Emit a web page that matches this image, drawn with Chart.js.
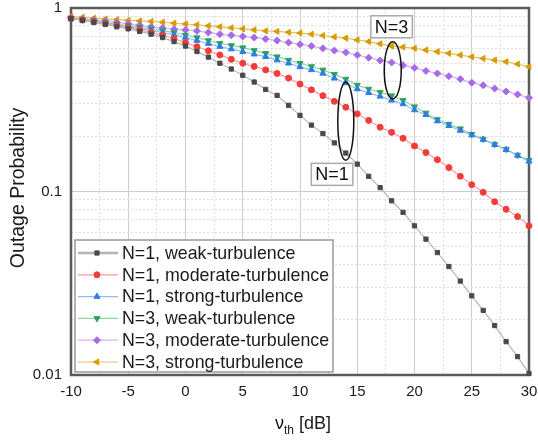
<!DOCTYPE html>
<html><head><meta charset="utf-8">
<script src="https://cdn.jsdelivr.net/npm/chart.js@4/dist/chart.umd.min.js"></script>
<style>html,body{margin:0;padding:0;background:#fff}#wrap{width:538px;height:443px;position:relative}</style>
</head><body><div id="wrap"><canvas id="c"></canvas></div>
<script>
// ---- data ----
const thresholdDb = [-10,-9,-8,-7,-6,-5,-4,-3,-2,-1,0,1,2,3,4,5,6,7,8,9,10,11,12,13,14,15,16,17,18,19,20,21,22,23,24,25,26,27,28,29,30];
const n1Weak = [0.875,0.855,0.835,0.815,0.79,0.77,0.745,0.72,0.69,0.656,0.62,0.58,0.54,0.50,0.465,0.43,0.395,0.36,0.334,0.295,0.26,0.23,0.207,0.184,0.162,0.141,0.121,0.105,0.089,0.077,0.065,0.055,0.0465,0.039,0.0325,0.027,0.0225,0.0186,0.0152,0.0126,0.0102];
const n1Moderate = [0.875,0.86,0.84,0.82,0.80,0.78,0.76,0.735,0.71,0.68,0.648,0.615,0.585,0.555,0.525,0.50,0.48,0.46,0.44,0.415,0.385,0.358,0.333,0.31,0.288,0.265,0.244,0.224,0.21,0.195,0.177,0.163,0.149,0.135,0.121,0.109,0.099,0.088,0.080,0.073,0.065];
const n1Strong = [0.875,0.86,0.845,0.83,0.81,0.79,0.77,0.755,0.735,0.714,0.69,0.665,0.64,0.616,0.597,0.578,0.56,0.543,0.52,0.50,0.478,0.46,0.44,0.414,0.39,0.362,0.345,0.33,0.314,0.30,0.278,0.262,0.242,0.228,0.215,0.203,0.192,0.18,0.169,0.157,0.146];
const n3Weak = [0.88,0.865,0.85,0.835,0.815,0.80,0.785,0.77,0.752,0.735,0.712,0.69,0.665,0.642,0.625,0.608,0.587,0.566,0.543,0.52,0.50,0.48,0.46,0.435,0.41,0.38,0.362,0.347,0.333,0.314,0.29,0.268,0.247,0.233,0.22,0.205,0.193,0.181,0.17,0.158,0.148];
const n3Moderate = [0.885,0.87,0.86,0.848,0.835,0.82,0.805,0.79,0.778,0.767,0.758,0.75,0.735,0.72,0.71,0.70,0.69,0.678,0.665,0.648,0.634,0.62,0.603,0.586,0.573,0.554,0.536,0.518,0.505,0.488,0.472,0.454,0.44,0.425,0.41,0.392,0.379,0.364,0.351,0.338,0.324];
const n3Strong = [0.90,0.89,0.88,0.872,0.864,0.856,0.85,0.845,0.836,0.827,0.818,0.81,0.80,0.79,0.78,0.77,0.76,0.75,0.745,0.737,0.73,0.72,0.708,0.696,0.685,0.67,0.656,0.638,0.62,0.612,0.603,0.59,0.578,0.566,0.554,0.542,0.531,0.52,0.51,0.495,0.478];
const seriesLabels = ['N=1, weak-turbulence','N=1, moderate-turbulence','N=1, strong-turbulence','N=3, weak-turbulence','N=3, moderate-turbulence','N=3, strong-turbulence'];
const xMajorTicks = [-10,-5,0,5,10,15,20,25,30];
const xMinorTicks = [-7.5,-2.5,2.5,7.5,12.5,17.5,22.5,27.5];
const yMajorTicks = [0.01,0.1,1];
const yMinorTicks = [0.02,0.03,0.04,0.05,0.06,0.07,0.08,0.09,0.2,0.3,0.4,0.5,0.6,0.7,0.8,0.9];
const annotationLabels = ['N=1','N=3'];

// ---- styles ----
const FONT = '"Liberation Sans", Arial, sans-serif';
const styles = [
  {line:'#b5b5b5', mark:'#4a4a4a', ps:'rect', rot:0, r:3},
  {line:'#ff9a9a', mark:'#f23c3c', ps:'circle', rot:0, r:3},
  {line:'#8fbcf5', mark:'#2f7de0', ps:'triangle', rot:0, r:3.5},
  {line:'#8fd4a8', mark:'#2ea35c', ps:'triangle', rot:180, r:3.5},
  {line:'#d4b3f3', mark:'#a86be8', ps:'rectRot', rot:0, r:3.5},
  {line:'#e6c25a', mark:'#d89b00', ps:'triangle', rot:270, r:3.5}
];
const allSeries = [n1Weak,n1Moderate,n1Strong,n3Weak,n3Moderate,n3Strong];
const datasets = allSeries.map((arr,i)=>({
  label: seriesLabels[i],
  data: thresholdDb.map((x,j)=>({x:x, y:arr[j]})),
  borderColor: styles[i].line, borderWidth: 1.2,
  pointBackgroundColor: styles[i].mark, pointBorderColor: styles[i].mark,
  pointStyle: styles[i].ps, rotation: styles[i].rot, pointRadius: styles[i].r, pointBorderWidth: 1,
  pointHoverRadius: styles[i].r, tension: 0, clip: false, fill: false
}));

const near = (a,b)=>Math.abs(a-b)<1e-9;
const isXMajor = v => xMajorTicks.some(t=>near(t,v));
const isYMajor = v => yMajorTicks.some(t=>Math.abs(Math.log10(t)-Math.log10(v))<1e-9);

function drawMarker(ctx, style, x, y, r, rot){
  if (window.Chart && Chart.helpers && Chart.helpers.drawPoint){
    Chart.helpers.drawPoint(ctx, {pointStyle: style, radius: r, rotation: rot, borderWidth:1}, x, y);
    return;
  }
  ctx.beginPath(); ctx.arc(x,y,r,0,Math.PI*2); ctx.fill();
}

const decor = {
  id:'decor',
  beforeDatasetsDraw(chart){
    const {ctx, chartArea:a} = chart;
    ctx.save();
    ctx.strokeStyle = '#5a5a5a'; ctx.lineWidth = 2.5;
    ctx.strokeRect(a.left, a.top, a.right-a.left, a.bottom-a.top);
    ctx.restore();
  },
  afterDatasetsDraw(chart){
    const {ctx, chartArea:a, scales:{x, y}} = chart;
    ctx.save();
    ctx.strokeStyle = '#111'; ctx.lineWidth = 1.5;
    const ell = (xv, yTop, yBot, rx)=>{
      const cx = x.getPixelForValue(xv), t = y.getPixelForValue(yTop), b = y.getPixelForValue(yBot);
      ctx.beginPath(); ctx.ellipse(cx, (t+b)/2, rx, (b-t)/2, 0, 0, Math.PI*2); ctx.stroke();
    };
    ell(14.0, 0.395, 0.148, 8);
    ell(18.1, 0.655, 0.319, 8.5);
    const box = (txt, xv, yv)=>{
      ctx.font = '18px '+FONT;
      const w = ctx.measureText(txt).width;
      const cx = x.getPixelForValue(xv), cy = y.getPixelForValue(yv);
      ctx.fillStyle = '#fff';
      ctx.fillRect(cx-w/2-4, cy-11, w+8, 22);
      ctx.strokeStyle = '#aaa'; ctx.lineWidth = 1.5;
      ctx.strokeRect(cx-w/2-4, cy-11, w+8, 22);
      ctx.fillStyle = '#111'; ctx.textAlign='center'; ctx.textBaseline='middle';
      ctx.fillText(txt, cx, cy+1);
    };
    box(annotationLabels[0], 12.8, 0.124);
    box(annotationLabels[1], 18.0, 0.79);
    ctx.restore();
  },
  afterDraw(chart){
    const {ctx, chartArea:a} = chart;
    ctx.save();
    const lx = a.left+4, ly = 240, lw = 258, lh = 132;
    ctx.fillStyle = '#fff'; ctx.fillRect(lx, ly, lw, lh);
    ctx.strokeStyle = '#9a9a9a'; ctx.lineWidth = 1.5; ctx.strokeRect(lx, ly, lw, lh);
    ctx.font = '17.8px '+FONT; ctx.textBaseline = 'middle'; ctx.textAlign = 'left';
    chart.data.datasets.forEach((ds,i)=>{
      const yy = ly + 13 + i*21.8;
      ctx.strokeStyle = ds.borderColor; ctx.lineWidth = i===0 ? 2.5 : 1.2;
      ctx.beginPath(); ctx.moveTo(lx+3, yy); ctx.lineTo(lx+43, yy); ctx.stroke();
      ctx.fillStyle = ds.pointBackgroundColor; ctx.strokeStyle = ds.pointBorderColor; ctx.lineWidth = 1;
      drawMarker(ctx, ds.pointStyle, lx+22, yy, ds.pointRadius, ds.rotation);
      ctx.fillStyle = '#1a1a1a';
      ctx.fillText(ds.label, lx+47, yy+1);
    });
    ctx.fillStyle = '#1a1a1a';
    ctx.save();
    ctx.translate(19, 188);
    ctx.rotate(-Math.PI/2);
    ctx.font = '19.5px '+FONT; ctx.textAlign='center'; ctx.textBaseline='middle';
    ctx.fillText('Outage Probability', 0, 0);
    ctx.restore();
    const parts = [['ν','18px',0],['th','12px',5],[' [dB]','18px',0]];
    let total = 0;
    parts.forEach(p=>{ctx.font = p[1]+' '+FONT; total += ctx.measureText(p[0]).width;});
    let px = 303 - total/2;
    const base = 429;
    ctx.textAlign='left'; ctx.textBaseline='alphabetic';
    parts.forEach(p=>{ctx.font = p[1]+' '+FONT; ctx.fillText(p[0], px, base+p[2]); px += ctx.measureText(p[0]).width;});
    ctx.restore();
  }
};

new Chart(document.getElementById('c'), {
  type:'line',
  data:{datasets},
  plugins:[decor],
  options:{
    responsive:true, maintainAspectRatio:false, animation:false,
    layout:{padding:{top:8, right:9, left:0, bottom:0}},
    plugins:{legend:{display:false}, tooltip:{enabled:false}},
    scales:{
      x:{
        type:'linear', min:-10, max:30,
        afterBuildTicks: s=>{ s.ticks = xMajorTicks.concat(xMinorTicks).sort((p,q)=>p-q).map(v=>({value:v})); },
        afterFit: s=>{ s.height = 68; s.paddingLeft = 0; s.paddingRight = 0; },
        ticks:{autoSkip:false, maxRotation:0, padding:8, color:'#1a1a1a', font:{family:FONT, size:15},
          callback: v => isXMajor(v) ? String(v) : ''},
        grid:{drawTicks:false, lineWidth:1, color: c => (c.tick && isXMajor(c.tick.value)) ? '#cdcdcd' : '#dedede'},
        border:{display:false, dash: c => (c.tick && !isXMajor(c.tick.value)) ? [2,2] : []}
      },
      y:{
        type:'logarithmic', min:0.01, max:1,
        afterBuildTicks: s=>{ s.ticks = yMajorTicks.concat(yMinorTicks).sort((p,q)=>p-q).map(v=>({value:v})); },
        afterFit: s=>{ s.width = 71; s.paddingTop = 0; s.paddingBottom = 0; },
        ticks:{autoSkip:false, padding:9, color:'#1a1a1a', font:{family:FONT, size:15},
          callback: v => isYMajor(v) ? String(v) : ''},
        grid:{drawTicks:false, lineWidth:1, color: c => (c.tick && isYMajor(c.tick.value)) ? '#cdcdcd' : '#dedede'},
        border:{display:false, dash: c => (c.tick && !isYMajor(c.tick.value)) ? [2,2] : []}
      }
    }
  }
});
</script>
</body></html>
